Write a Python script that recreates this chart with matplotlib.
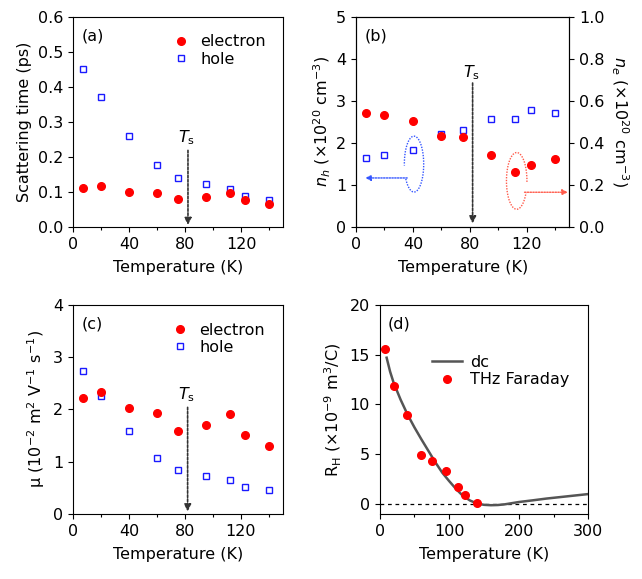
import matplotlib
matplotlib.use("Agg")
import matplotlib.pyplot as plt
import numpy as np

# measurement temperatures (K)
temps = [7, 20, 40, 60, 75, 95, 112, 123, 140]

# (a) scattering time (ps)
tau_e = [0.110, 0.115, 0.100, 0.096, 0.079, 0.085, 0.095, 0.076, 0.066]
tau_h = [0.450, 0.371, 0.260, 0.176, 0.140, 0.121, 0.108, 0.087, 0.077]

# (b) carrier densities (x1e20 cm^-3)
n_h = [1.63, 1.71, 1.83, 2.21, 2.31, 2.56, 2.57, 2.78, 2.71]
n_e = [0.540, 0.530, 0.502, 0.430, 0.426, 0.340, 0.258, 0.294, 0.320]

# (c) mobility (1e-2 m^2/Vs)
mu_e = [2.21, 2.33, 2.02, 1.93, 1.59, 1.70, 1.91, 1.52, 1.31]
mu_h = [2.74, 2.25, 1.58, 1.07, 0.84, 0.73, 0.65, 0.52, 0.45]

# (d) Hall coefficient (1e-9 m^3/C)
rh_thz = [15.57, 11.9, 8.96, 4.95, 4.30, 3.28, 1.74, 0.87, 0.07]
dc_temps = [10, 15, 20, 30, 40, 50, 60, 70, 80, 90, 100, 110, 120, 130,
            140, 150, 160, 170, 180, 200, 220, 240, 260, 280, 300]
dc_rh = [14.7, 13.3, 12.2, 10.5, 9.0, 7.7, 6.5, 5.35, 4.2, 3.15, 2.3, 1.5,
         0.8, 0.35, 0.05, -0.08, -0.12, -0.1, -0.03, 0.2, 0.37, 0.55, 0.7,
         0.85, 1.0]

T_s = 82

plt.rcParams["font.size"] = 11.5
plt.rcParams["axes.linewidth"] = 0.8
plt.rcParams["xtick.direction"] = "out"
plt.rcParams["ytick.direction"] = "out"
plt.rcParams["xtick.major.size"] = 3.6
plt.rcParams["ytick.major.size"] = 3.6
plt.rcParams["xtick.minor.size"] = 2.4
plt.rcParams["xtick.major.width"] = 0.8
plt.rcParams["ytick.major.width"] = 0.8
plt.rcParams["xtick.minor.width"] = 0.8

RED = "#ff0000"
BLUE = "#1a1aff"

fig = plt.figure(figsize=(6.42, 5.79), dpi=100)
ax_a = fig.add_axes([0.1137, 0.6085, 0.3276, 0.3627])
ax_b = fig.add_axes([0.5545, 0.6085, 0.3323, 0.3627])
ax_c = fig.add_axes([0.1137, 0.1123, 0.3266, 0.3610])
ax_d = fig.add_axes([0.5914, 0.1123, 0.3249, 0.3610])


def temp_axis(ax, xmax=150):
    ax.set_xlim(0, xmax)
    ax.set_xticks(range(0, 121, 40))
    ax.set_xticks(range(20, 141, 40), minor=True)
    ax.set_xlabel("Temperature (K)", labelpad=6)
    ax.tick_params(top=False, right=False, which="both")


def ts_arrow(ax, y_text, y_start, y_end):
    ax.annotate("", xy=(T_s, y_end), xytext=(T_s, y_start),
                arrowprops=dict(arrowstyle="-|>", color="#333333", lw=1.2,
                                linestyle=(0, (1.5, 1)), mutation_scale=10,
                                shrinkA=0, shrinkB=0))
    ax.text(T_s - 1, y_text, r"$T_\mathrm{s}$", ha="center", va="center")


def electron_hole(ax, ye, yh):
    ax.plot(temps, ye, "o", color=RED, ms=5.5, label="electron", zorder=3)
    ax.plot(temps, yh, "s", mfc="none", mec=BLUE, ms=4.8, mew=1.0,
            label="hole", zorder=2)
    ax.legend(loc="upper right", bbox_to_anchor=(1.0, 1.0), frameon=False,
              handlelength=1.0, handletextpad=0.7, labelspacing=0.15,
              borderaxespad=0.7)


def open_ellipse(ax, cx, cy, w, h, t1, t2, color):
    t = np.radians(np.linspace(t1, t2, 120))
    ax.plot(cx + w / 2 * np.cos(t), cy + h / 2 * np.sin(t), color=color,
            lw=1.0, linestyle=(0, (1, 1)))


# (a)
temp_axis(ax_a)
electron_hole(ax_a, tau_e, tau_h)
ax_a.set_ylim(0, 0.6)
ax_a.set_yticks([0.0, 0.1, 0.2, 0.3, 0.4, 0.5, 0.6])
ax_a.set_yticklabels(["0.0", "0.1", "0.2", "0.3", "0.4", "0.5", "0.6"])
ax_a.set_ylabel("Scattering time (ps)")
ts_arrow(ax_a, 0.255, 0.218, 0.005)
ax_a.text(0.04, 0.945, "(a)", transform=ax_a.transAxes, va="top")

# (b)
temp_axis(ax_b)
ax_b2 = ax_b.twinx()
ax_b.plot(temps, n_h, "s", mfc="none", mec=BLUE, ms=4.8, mew=1.0, zorder=2)
ax_b2.plot(temps, n_e, "o", color=RED, ms=5.5, zorder=3)
ax_b.set_ylim(0, 5)
ax_b.set_yticks(range(0, 6))
ax_b2.set_ylim(0, 1.0)
ax_b2.set_yticks([0.0, 0.2, 0.4, 0.6, 0.8, 1.0])
ax_b2.set_yticklabels(["0.0", "0.2", "0.4", "0.6", "0.8", "1.0"])
ax_b.set_ylabel(r"$n_h$ (×10$^{20}$ cm$^{-3}$)", labelpad=2)
ax_b2.set_ylabel(r"$n_e$ (×10$^{20}$ cm$^{-3}$)", rotation=270, labelpad=18)
ax_b.tick_params(right=False)
ts_arrow(ax_b, 3.67, 3.42, 0.08)
ax_b.text(0.04, 0.945, "(b)", transform=ax_b.transAxes, va="top")

# open ellipses with arrows pointing to the matching axis
open_ellipse(ax_b, 40.8, 1.49, 13.6, 1.33, 212, 543, "#3355ff")
ax_b.annotate("", xy=(6.5, 1.16), xytext=(36.0, 1.16),
              arrowprops=dict(arrowstyle="-|>", color="#3355ff", lw=1.0,
                              linestyle=(0, (1, 1)), mutation_scale=8,
                              shrinkA=0, shrinkB=0))
open_ellipse(ax_b, 113, 1.09, 14.4, 1.35, -2, 335, "#ff5a4a")
ax_b.annotate("", xy=(149, 0.82), xytext=(118.5, 0.82),
              arrowprops=dict(arrowstyle="-|>", color="#ff5a4a", lw=1.0,
                              linestyle=(0, (1, 1)), mutation_scale=8,
                              shrinkA=0, shrinkB=0))

# (c)
temp_axis(ax_c)
electron_hole(ax_c, mu_e, mu_h)
ax_c.set_ylim(0, 4)
ax_c.set_yticks(range(0, 5))
ax_c.set_ylabel(r"μ (10$^{-2}$ m$^{2}$ V$^{-1}$ s$^{-1}$)")
ts_arrow(ax_c, 2.28, 2.04, 0.05)
ax_c.text(0.04, 0.945, "(c)", transform=ax_c.transAxes, va="top")

# (d)
ax_d.set_xlim(0, 300)
ax_d.set_xticks([0, 100, 200, 300])
ax_d.set_xticks([50, 150, 250], minor=True)
ax_d.set_xlabel("Temperature (K)", labelpad=6)
ax_d.tick_params(top=False, right=False, which="both")
ax_d.axhline(0, color="k", lw=0.9, linestyle=(0, (3, 3)))
ax_d.plot(dc_temps, dc_rh, "-", color="#555555", lw=1.8, label="dc")
ax_d.plot(temps, rh_thz, "o", color=RED, ms=5.5, label="THz Faraday")
ax_d.set_ylim(-1, 20)
ax_d.set_yticks([0, 5, 10, 15, 20])
ax_d.set_ylabel(r"R$_\mathrm{H}$ (×10$^{-9}$ m$^3$/C)")
ax_d.legend(loc="upper left", bbox_to_anchor=(0.18, 0.83), frameon=False,
            handlelength=1.9, handletextpad=0.5, labelspacing=0.15)
ax_d.text(0.04, 0.945, "(d)", transform=ax_d.transAxes, va="top")

plt.savefig("out.png", dpi=100)
